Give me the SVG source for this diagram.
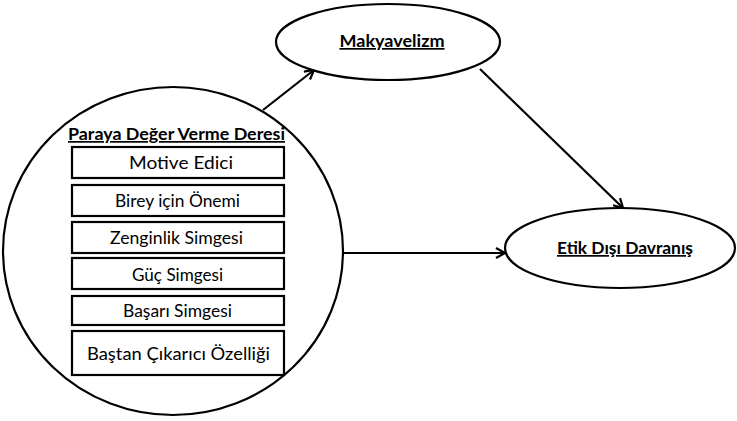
<svg xmlns="http://www.w3.org/2000/svg" width="737" height="421" viewBox="0 0 737 421">
  <style>
    .shape { fill: #ffffff; stroke: #000000; stroke-width: 2.2; }
    .box { fill: #ffffff; stroke: #000000; stroke-width: 2.2; }
    .lbl { font-family: Lato, "Liberation Sans", Arial, sans-serif; font-size: 18px; fill: #000000; text-anchor: middle; }
    .head { font-size: 17px; font-weight: bold; text-decoration: underline; }
    .edge { fill: none; stroke: #000000; stroke-width: 2.2; }
  </style>
  <defs>
    <marker id="arrow" viewBox="0 0 12 12" refX="11" refY="6" markerWidth="12" markerHeight="12" markerUnits="userSpaceOnUse" orient="auto">
      <path d="M2,1 L11,6 L2,11" fill="none" stroke="#000000" stroke-width="2.2"/>
    </marker>
  </defs>
  <rect width="737" height="421" fill="#ffffff"/>

  <g id="connectors">
    <line class="edge" x1="263" y1="110" x2="314" y2="70" marker-end="url(#arrow)"/>
    <line class="edge" x1="480" y1="69" x2="623" y2="208" marker-end="url(#arrow)"/>
    <line class="edge" x1="343" y1="253" x2="505" y2="253" marker-end="url(#arrow)"/>
  </g>

  <g id="paraya-deger-verme">
    <ellipse class="shape" cx="173" cy="251" rx="170" ry="164"/>
    <text class="lbl head" x="176.5" y="140" textLength="217" lengthAdjust="spacingAndGlyphs">Paraya Değer Verme Deresi</text>
    <g id="motive-edici">
      <rect class="box" x="72" y="147" width="212" height="31"/>
      <text class="lbl" x="181" y="169" textLength="104" lengthAdjust="spacingAndGlyphs">Motive Edici</text>
    </g>
    <g id="birey-icin-onemi">
      <rect class="box" x="72" y="185" width="212" height="31"/>
      <text class="lbl" x="177.5" y="207" textLength="125" lengthAdjust="spacingAndGlyphs">Birey için Önemi</text>
    </g>
    <g id="zenginlik-simgesi">
      <rect class="box" x="72" y="222" width="212" height="31"/>
      <text class="lbl" x="176.5" y="244" textLength="133" lengthAdjust="spacingAndGlyphs">Zenginlik Simgesi</text>
    </g>
    <g id="guc-simgesi">
      <rect class="box" x="72" y="258" width="212" height="31"/>
      <text class="lbl" x="177.5" y="281" textLength="91" lengthAdjust="spacingAndGlyphs">Güç Simgesi</text>
    </g>
    <g id="basari-simgesi">
      <rect class="box" x="72" y="296" width="212" height="29"/>
      <text class="lbl" x="177.5" y="317" textLength="109" lengthAdjust="spacingAndGlyphs">Başarı Simgesi</text>
    </g>
    <g id="bastan-cikarici">
      <rect class="box" x="72" y="331" width="212" height="44"/>
      <text class="lbl" x="178.5" y="360" textLength="183" lengthAdjust="spacingAndGlyphs">Baştan Çıkarıcı Özelliği</text>
    </g>
  </g>

  <g id="makyavelizm">
    <ellipse class="shape" cx="388" cy="42" rx="112" ry="38"/>
    <text class="lbl head" x="392" y="47" textLength="105" lengthAdjust="spacingAndGlyphs">Makyavelizm</text>
  </g>

  <g id="etik-disi-davranis">
    <ellipse class="shape" cx="620" cy="248" rx="115" ry="40"/>
    <text class="lbl head" x="625" y="254" textLength="136" lengthAdjust="spacingAndGlyphs">Etik Dışı Davranış</text>
  </g>
</svg>
